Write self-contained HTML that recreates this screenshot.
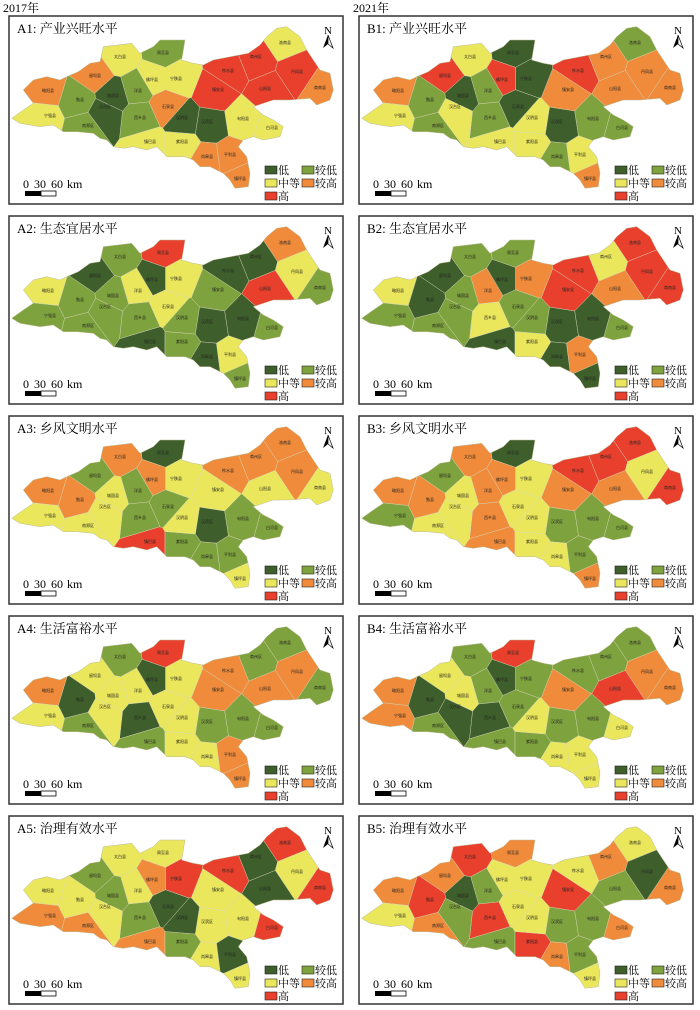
<!DOCTYPE html>
<html><head><meta charset="utf-8"><style>
html,body{margin:0;padding:0;background:#fff;}
svg{display:block;font-family:"Liberation Serif","Noto Serif CJK SC",serif;}
.lb{font-size:4px;fill:#222;text-anchor:middle;font-family:"Noto Sans CJK SC",sans-serif;}
</style></head><body>
<svg id="root" width="700" height="1010" viewBox="0 0 700 1010" xmlns="http://www.w3.org/2000/svg" xmlns:xlink="http://www.w3.org/1999/xlink">
<defs>
<polygon id="ol" points="11.7,118.3 23.3,110 33.3,103.3 23.3,90 33.3,80 46.7,76.7 60,80 66.7,76.7 78.3,71.7 90,63.3 100,61.7 103.3,46.7 131.7,43.3 140,53.3 153.3,46.7 160,40 185,40 181.7,60 193.3,63.3 203.3,65 213.3,60 248.3,53.3 260,45 266.7,36.7 276.7,28.3 286.7,26.7 300,36.7 306.7,50 313.3,60 320,70 330,73.3 333.3,90 330,100 316.7,105 310,98.3 290,100 273.3,100 263.3,103.3 253.3,106.7 263.3,115 273.3,120 283.3,126.7 280,136.7 263.3,140 253.3,136.7 243.3,140 238.3,146.7 246.7,156.7 250,173.3 248.3,186.7 235,188.3 230,180 223.3,173.3 210,166.7 200,166.7 193.3,160 185,156.7 176.7,156.7 166.7,156.7 156.7,146.7 146.7,150 133.3,146.7 123.3,148.3 113.3,146.7 106.7,140 100,138.3 93.3,133.3 76.7,131.7 63.3,131.7 53.3,125 40,126.7 20,123.3"/>
<clipPath id="cp"><use xlink:href="#ol"/></clipPath>
<g id="m">
<g id="cg" clip-path="url(#cp)">
<use xlink:href="#ol" fill="var(--c5)"/>
<g id="circ">
<circle cx="45" cy="92" r="26" fill="var(--c3)"/>
<circle cx="40" cy="122" r="24" fill="var(--c4)"/>
<circle cx="88" cy="132" r="24" fill="var(--c5)"/>
<circle cx="163" cy="50" r="22" fill="var(--c1)"/>
<circle cx="120" cy="55" r="20" fill="var(--c2)"/>
<circle cx="150" cy="150" r="22" fill="var(--c8)"/>
<circle cx="185" cy="150" r="18" fill="var(--c9)"/>
<circle cx="138" cy="92" r="22" fill="var(--c6)"/>
<circle cx="140" cy="122" r="20" fill="var(--c7)"/>
<circle cx="243" cy="120" r="24" fill="var(--c11)"/>
<circle cx="207" cy="125" r="22" fill="var(--c10)"/>
<circle cx="207" cy="162" r="16" fill="var(--c12)"/>
<circle cx="285" cy="38" r="22" fill="var(--c16)"/>
<circle cx="322" cy="88" r="20" fill="var(--c19)"/>
<circle cx="300" cy="72" r="18" fill="var(--c17)"/>
<circle cx="268" cy="92" r="22" fill="var(--c18)"/>
<circle cx="256" cy="60" r="18" fill="var(--c15)"/>
<circle cx="230" cy="72" r="20" fill="var(--c13)"/>
<circle cx="215" cy="95" r="19" fill="var(--c14)"/>
<circle cx="78" cy="102" r="17" fill="var(--c20)"/>
<circle cx="177" cy="78" r="16" fill="var(--c21)"/>
<circle cx="230" cy="157" r="14" fill="var(--c22)"/>
<circle cx="240" cy="180" r="14" fill="var(--c23)"/>
<circle cx="275" cy="128" r="14" fill="var(--c24)"/>
<circle cx="182" cy="121" r="11" fill="var(--c25)"/>
<circle cx="166" cy="107" r="11" fill="var(--c26)"/>
<circle cx="153" cy="79" r="11" fill="var(--c27)"/>
<circle cx="95" cy="74" r="12" fill="var(--c28)"/>
<ellipse cx="113" cy="100" rx="10" ry="26" fill="var(--c29)"/>
<circle cx="105" cy="110" r="6" fill="var(--c30)"/>
</g>
</g>
<use xlink:href="#ol" fill="none" stroke="#bdbd9a" stroke-width="0.5"/>
<g class="lb">
<text x="163" y="54">周至县</text><text x="120" y="58">太白县</text><text x="48" y="92">略阳县</text><text x="50" y="117">宁强县</text><text x="88" y="127">南郑区</text><text x="138" y="92">洋县</text><text x="140" y="119">西乡县</text><text x="150" y="143">镇巴县</text><text x="182" y="143">紫阳县</text><text x="207" y="123">汉滨区</text><text x="243" y="120">旬阳县</text><text x="272" y="129">白河县</text><text x="207" y="158">岚皋县</text><text x="230" y="156">平利县</text><text x="240" y="180">镇坪县</text><text x="228" y="72">柞水县</text><text x="218" y="91">镇安县</text><text x="256" y="58">商州区</text><text x="285" y="44">洛南县</text><text x="297" y="73">丹凤县</text><text x="265" y="90">山阳县</text><text x="320" y="89">商南县</text><text x="80" y="101">勉县</text><text x="176" y="80">宁陕县</text><text x="182" y="119">汉阴县</text><text x="168" y="108">石泉县</text><text x="152" y="81">佛坪县</text><text x="95" y="77">留坝县</text><text x="113" y="97">城固县</text><text x="105" y="108">汉台区</text>
</g>
<text x="328" y="34" font-size="11" text-anchor="middle">N</text>
<polygon points="328,35 323,48 328,44" fill="#000"/>
<polygon points="328,35 333,48 328,44" fill="#fff" stroke="#000" stroke-width="0.7"/>
<g font-size="12"><text x="23" y="188">0</text><text x="34" y="188">30</text><text x="51" y="188">60</text><text x="67" y="188">km</text></g>
<rect x="25" y="191" width="16" height="5" fill="#000"/>
<rect x="41" y="191" width="15" height="5" fill="#fff" stroke="#000" stroke-width="0.8"/>
<g stroke="#222" stroke-width="0.6">
<rect x="265" y="166" width="12" height="8" fill="#3e5f2b"/>
<rect x="302" y="166" width="12" height="8" fill="#7ea23d"/>
<rect x="265" y="179" width="12" height="8" fill="#ebe75c"/>
<rect x="302" y="179" width="12" height="8" fill="#ef8b3b"/>
<rect x="265" y="192" width="12" height="8" fill="#e8402d"/>
</g>
<g font-size="11">
<text x="278" y="174">低</text><text x="315" y="174">较低</text>
<text x="278" y="187">中等</text><text x="315" y="187">较高</text>
<text x="278" y="200">高</text>
</g>
</g>
</defs>
<text x="3" y="12" font-size="12">2017年</text>
<text x="353" y="12" font-size="12">2021年</text>

<g transform="translate(0,0)"><rect x="9" y="16" width="334" height="188" fill="#fff" stroke="#333" stroke-width="1.5"/>
<g style="--c1:#7ea23d;--c2:#ebe75c;--c3:#ef8b3b;--c4:#ebe75c;--c5:#7ea23d;--c6:#7ea23d;--c7:#7ea23d;--c8:#ebe75c;--c9:#ebe75c;--c10:#3e5f2b;--c11:#ebe75c;--c12:#ef8b3b;--c13:#e8402d;--c14:#e8402d;--c15:#e8402d;--c16:#ebe75c;--c17:#e8402d;--c18:#e8402d;--c19:#ef8b3b;--c20:#7ea23d;--c21:#ebe75c;--c22:#ef8b3b;--c23:#ef8b3b;--c24:#ebe75c;--c25:#3e5f2b;--c26:#ef8b3b;--c27:#ebe75c;--c28:#ef8b3b;--c29:#3e5f2b;--c30:#3e5f2b"><use xlink:href="#m"/></g>
<text x="17" y="33" font-size="13">A1: 产业兴旺水平</text></g>

<g transform="translate(350,0)"><rect x="9" y="16" width="334" height="188" fill="#fff" stroke="#333" stroke-width="1.5"/>
<g style="--c1:#3e5f2b;--c2:#ebe75c;--c3:#ef8b3b;--c4:#ebe75c;--c5:#7ea23d;--c6:#7ea23d;--c7:#7ea23d;--c8:#ebe75c;--c9:#ebe75c;--c10:#3e5f2b;--c11:#7ea23d;--c12:#7ea23d;--c13:#e8402d;--c14:#ef8b3b;--c15:#ef8b3b;--c16:#7ea23d;--c17:#ef8b3b;--c18:#ef8b3b;--c19:#ef8b3b;--c20:#7ea23d;--c21:#3e5f2b;--c22:#ebe75c;--c23:#ef8b3b;--c24:#7ea23d;--c25:#ebe75c;--c26:#3e5f2b;--c27:#e8402d;--c28:#e8402d;--c29:#3e5f2b;--c30:#ebe75c"><use xlink:href="#m"/></g>
<text x="17" y="33" font-size="13">B1: 产业兴旺水平</text></g>

<g transform="translate(0,200)"><rect x="9" y="16" width="334" height="188" fill="#fff" stroke="#333" stroke-width="1.5"/>
<g style="--c1:#e8402d;--c2:#7ea23d;--c3:#ebe75c;--c4:#7ea23d;--c5:#7ea23d;--c6:#ebe75c;--c7:#7ea23d;--c8:#3e5f2b;--c9:#7ea23d;--c10:#3e5f2b;--c11:#3e5f2b;--c12:#3e5f2b;--c13:#3e5f2b;--c14:#7ea23d;--c15:#3e5f2b;--c16:#ef8b3b;--c17:#ebe75c;--c18:#e8402d;--c19:#7ea23d;--c20:#7ea23d;--c21:#ebe75c;--c22:#ebe75c;--c23:#7ea23d;--c24:#7ea23d;--c25:#7ea23d;--c26:#ebe75c;--c27:#3e5f2b;--c28:#3e5f2b;--c29:#7ea23d;--c30:#7ea23d"><use xlink:href="#m"/></g>
<text x="17" y="33" font-size="13">A2: 生态宜居水平</text></g>

<g transform="translate(350,200)"><rect x="9" y="16" width="334" height="188" fill="#fff" stroke="#333" stroke-width="1.5"/>
<g style="--c1:#7ea23d;--c2:#7ea23d;--c3:#ebe75c;--c4:#7ea23d;--c5:#7ea23d;--c6:#ef8b3b;--c7:#ebe75c;--c8:#3e5f2b;--c9:#ebe75c;--c10:#3e5f2b;--c11:#3e5f2b;--c12:#3e5f2b;--c13:#e8402d;--c14:#e8402d;--c15:#ebe75c;--c16:#e8402d;--c17:#e8402d;--c18:#ef8b3b;--c19:#e8402d;--c20:#3e5f2b;--c21:#ef8b3b;--c22:#ef8b3b;--c23:#3e5f2b;--c24:#7ea23d;--c25:#7ea23d;--c26:#7ea23d;--c27:#3e5f2b;--c28:#3e5f2b;--c29:#7ea23d;--c30:#7ea23d"><use xlink:href="#m"/></g>
<text x="17" y="33" font-size="13">B2: 生态宜居水平</text></g>

<g transform="translate(0,400)"><rect x="9" y="16" width="334" height="188" fill="#fff" stroke="#333" stroke-width="1.5"/>
<g style="--c1:#3e5f2b;--c2:#ef8b3b;--c3:#ef8b3b;--c4:#ebe75c;--c5:#ebe75c;--c6:#7ea23d;--c7:#7ea23d;--c8:#e8402d;--c9:#7ea23d;--c10:#3e5f2b;--c11:#7ea23d;--c12:#7ea23d;--c13:#ef8b3b;--c14:#ebe75c;--c15:#ef8b3b;--c16:#ef8b3b;--c17:#ef8b3b;--c18:#ebe75c;--c19:#ebe75c;--c20:#ef8b3b;--c21:#ebe75c;--c22:#7ea23d;--c23:#ebe75c;--c24:#7ea23d;--c25:#ebe75c;--c26:#7ea23d;--c27:#ef8b3b;--c28:#7ea23d;--c29:#ebe75c;--c30:#ebe75c"><use xlink:href="#m"/></g>
<text x="17" y="33" font-size="13">A3: 乡风文明水平</text></g>

<g transform="translate(350,400)"><rect x="9" y="16" width="334" height="188" fill="#fff" stroke="#333" stroke-width="1.5"/>
<g style="--c1:#3e5f2b;--c2:#ef8b3b;--c3:#ef8b3b;--c4:#7ea23d;--c5:#ebe75c;--c6:#ef8b3b;--c7:#ef8b3b;--c8:#ef8b3b;--c9:#ebe75c;--c10:#7ea23d;--c11:#7ea23d;--c12:#ebe75c;--c13:#e8402d;--c14:#ef8b3b;--c15:#e8402d;--c16:#e8402d;--c17:#ebe75c;--c18:#ef8b3b;--c19:#e8402d;--c20:#ef8b3b;--c21:#ebe75c;--c22:#7ea23d;--c23:#ef8b3b;--c24:#7ea23d;--c25:#ebe75c;--c26:#ebe75c;--c27:#ef8b3b;--c28:#7ea23d;--c29:#ebe75c;--c30:#ebe75c"><use xlink:href="#m"/></g>
<text x="17" y="33" font-size="13">B3: 乡风文明水平</text></g>

<g transform="translate(0,600)"><rect x="9" y="16" width="334" height="188" fill="#fff" stroke="#333" stroke-width="1.5"/>
<g style="--c1:#e8402d;--c2:#7ea23d;--c3:#ef8b3b;--c4:#ebe75c;--c5:#7ea23d;--c6:#ebe75c;--c7:#3e5f2b;--c8:#7ea23d;--c9:#ebe75c;--c10:#7ea23d;--c11:#7ea23d;--c12:#ebe75c;--c13:#ef8b3b;--c14:#ef8b3b;--c15:#7ea23d;--c16:#7ea23d;--c17:#ef8b3b;--c18:#ef8b3b;--c19:#7ea23d;--c20:#3e5f2b;--c21:#ebe75c;--c22:#ef8b3b;--c23:#ef8b3b;--c24:#7ea23d;--c25:#ebe75c;--c26:#ebe75c;--c27:#3e5f2b;--c28:#ebe75c;--c29:#ebe75c;--c30:#ebe75c"><use xlink:href="#m"/></g>
<text x="17" y="33" font-size="13">A4: 生活富裕水平</text></g>

<g transform="translate(350,600)"><rect x="9" y="16" width="334" height="188" fill="#fff" stroke="#333" stroke-width="1.5"/>
<g style="--c1:#e8402d;--c2:#7ea23d;--c3:#ef8b3b;--c4:#ef8b3b;--c5:#7ea23d;--c6:#7ea23d;--c7:#3e5f2b;--c8:#7ea23d;--c9:#7ea23d;--c10:#7ea23d;--c11:#7ea23d;--c12:#ebe75c;--c13:#7ea23d;--c14:#ef8b3b;--c15:#7ea23d;--c16:#7ea23d;--c17:#ef8b3b;--c18:#e8402d;--c19:#ef8b3b;--c20:#3e5f2b;--c21:#7ea23d;--c22:#ebe75c;--c23:#ebe75c;--c24:#ebe75c;--c25:#ebe75c;--c26:#7ea23d;--c27:#3e5f2b;--c28:#ebe75c;--c29:#ebe75c;--c30:#3e5f2b"><use xlink:href="#m"/></g>
<text x="17" y="33" font-size="13">B4: 生活富裕水平</text></g>

<g transform="translate(0,800)"><rect x="9" y="16" width="334" height="188" fill="#fff" stroke="#333" stroke-width="1.5"/>
<g style="--c1:#ebe75c;--c2:#ebe75c;--c3:#ebe75c;--c4:#ef8b3b;--c5:#ef8b3b;--c6:#ebe75c;--c7:#7ea23d;--c8:#ef8b3b;--c9:#7ea23d;--c10:#ebe75c;--c11:#ebe75c;--c12:#ebe75c;--c13:#e8402d;--c14:#ebe75c;--c15:#3e5f2b;--c16:#e8402d;--c17:#ebe75c;--c18:#3e5f2b;--c19:#e8402d;--c20:#ebe75c;--c21:#e8402d;--c22:#3e5f2b;--c23:#ebe75c;--c24:#e8402d;--c25:#3e5f2b;--c26:#3e5f2b;--c27:#ef8b3b;--c28:#7ea23d;--c29:#7ea23d;--c30:#ebe75c"><use xlink:href="#m"/></g>
<text x="17" y="33" font-size="13">A5: 治理有效水平</text></g>

<g transform="translate(350,800)"><rect x="9" y="16" width="334" height="188" fill="#fff" stroke="#333" stroke-width="1.5"/>
<g style="--c1:#ef8b3b;--c2:#e8402d;--c3:#ef8b3b;--c4:#ebe75c;--c5:#ef8b3b;--c6:#7ea23d;--c7:#e8402d;--c8:#7ea23d;--c9:#e8402d;--c10:#7ea23d;--c11:#7ea23d;--c12:#ef8b3b;--c13:#ebe75c;--c14:#e8402d;--c15:#ef8b3b;--c16:#ebe75c;--c17:#3e5f2b;--c18:#7ea23d;--c19:#ef8b3b;--c20:#e8402d;--c21:#ebe75c;--c22:#7ea23d;--c23:#ebe75c;--c24:#ef8b3b;--c25:#ebe75c;--c26:#ebe75c;--c27:#ebe75c;--c28:#ef8b3b;--c29:#3e5f2b;--c30:#7ea23d"><use xlink:href="#m"/></g>
<text x="17" y="33" font-size="13">B5: 治理有效水平</text></g>
</svg>
<script>
(function(){
try{
var S=[[163,52,1],[120,57,2],[45,90,3],[42,118,4],[85,128,5],[137,88,6],[140,118,7],[148,145,8],[182,145,9],[210,125,10],[243,120,11],[207,160,12],[230,70,13],[215,93,14],[255,60,15],[285,40,16],[298,72,17],[268,92,18],[322,88,19],[78,100,20],[177,78,21],[230,157,22],[240,180,23],[272,128,24],[184,121,25],[167,106,26],[154,78,27],[95,75,28],[113,95,29],[104,114,30]];
var NS="http://www.w3.org/2000/svg";
var cg=document.getElementById("cg");
var frag=document.createDocumentFragment();
for(var i=0;i<S.length;i++){
 var p=[[0,0],[345,0],[345,200],[0,200]];
 var pi=S[i];
 for(var j=0;j<S.length&&p.length;j++){
  if(j==i)continue;var pj=S[j];
  var a=2*(pj[0]-pi[0]),b=2*(pj[1]-pi[1]),c=pj[0]*pj[0]+pj[1]*pj[1]-pi[0]*pi[0]-pi[1]*pi[1];
  var q=[];
  for(var k=0;k<p.length;k++){
   var A=p[k],B=p[(k+1)%p.length];
   var fa=a*A[0]+b*A[1]-c,fb=a*B[0]+b*B[1]-c;
   if(fa<=0)q.push(A);
   if((fa<0&&fb>0)||(fa>0&&fb<0)){var t=fa/(fa-fb);q.push([A[0]+t*(B[0]-A[0]),A[1]+t*(B[1]-A[1])]);}
  }
  p=q;
 }
 if(p.length<3)continue;
 var el=document.createElementNS(NS,"polygon");
 el.setAttribute("points",p.map(function(v){return v[0].toFixed(1)+","+v[1].toFixed(1);}).join(" "));
 el.setAttribute("fill","var(--c"+pi[2]+")");
 el.setAttribute("style","fill:var(--c"+pi[2]+")");
 el.setAttribute("stroke","#d9d9c0");
 el.setAttribute("stroke-width","0.4");
 frag.appendChild(el);
}
var circ=document.getElementById("circ");
cg.appendChild(frag);
circ.parentNode.removeChild(circ);
}catch(e){}
})();
</script>
</body></html>
